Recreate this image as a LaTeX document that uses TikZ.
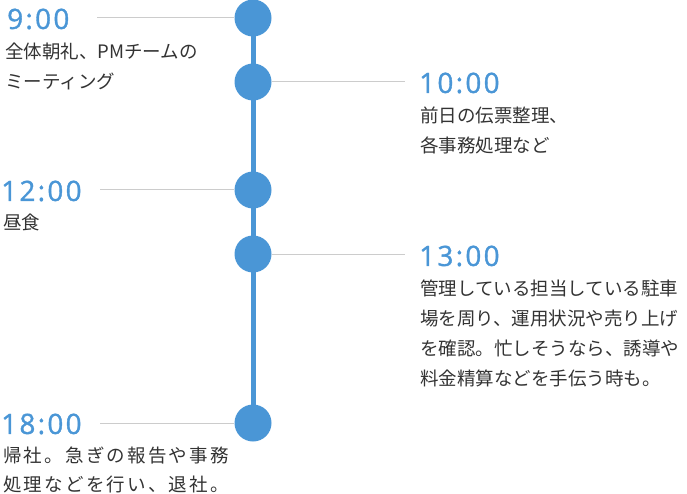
\documentclass[tikz,border=0pt]{standalone}
\usepackage{fontspec}
\setmainfont{Noto Sans CJK JP}
\newfontfamily\timefont[LetterSpace=8,FakeBold=1.2]{Open Sans}
\newfontfamily\widejp[LetterSpace=12]{Noto Sans CJK JP}
\definecolor{tblue}{HTML}{4A96D6}
\definecolor{tgray}{HTML}{CCCCCC}
\definecolor{ttext}{HTML}{333333}
\begin{document}
\begin{tikzpicture}[x=1pt,y=-1pt,
  dot/.style={circle,fill=tblue,minimum size=37pt,inner sep=0},
  tick/.style={draw=tgray,line width=1pt},
  tlabel/.style={anchor=west,inner sep=0,text=tblue,font=\timefont\fontsize{28}{28}\selectfont},
  desc/.style={anchor=north west,inner sep=0,text=ttext,align=left,font=\fontsize{18.5}{30}\selectfont}]
\useasboundingbox (0,0) rectangle (687,494);
\draw[tblue,line width=5pt] (253,18) -- (253,423);
\node[dot] (d1) at (253,18) {};
\node[dot] (d2) at (253,82) {};
\node[dot] (d3) at (253,190) {};
\node[dot] (d4) at (253,254) {};
\node[dot] (d5) at (253,423) {};
\coordinate (e1) at (97,18);
\coordinate (e2) at (405,82);
\coordinate (e3) at (100,190);
\coordinate (e4) at (405,254);
\coordinate (e5) at (100,423);
\draw[tick] (e1) -- (d1.west);
\draw[tick] (d2.east) -- (e2);
\draw[tick] (e3) -- (d3.west);
\draw[tick] (d4.east) -- (e4);
\draw[tick] (e5) -- (d5.west);
\node[tlabel] (t1) at (7,19) {9:00};
\node[tlabel] (t2) at (419,83) {10:00};
\node[tlabel] (t3) at (1,191) {12:00};
\node[tlabel] (t4) at (419,256) {13:00};
\node[tlabel] (t5) at (1,424) {18:00};
\node[desc] (x1) at (5,43) {全体朝礼、PMチームの\\ミーティング};
\node[desc] (x2) at (420,107) {前日の伝票整理、\\各事務処理など};
\node[desc] (x3) at (3,214) {昼食};
\node[desc] (x4) at (420,280) {管理している担当している駐車\\場を周り、運用状況や売り上げ\\を確認。忙しそうなら、誘導や\\料金精算などを手伝う時も。};
\node[desc,font=\widejp\fontsize{18.5}{29}\selectfont] (x5) at (3,447) {帰社。急ぎの報告や事務\\処理などを行い、退社。};
\end{tikzpicture}
\end{document}
